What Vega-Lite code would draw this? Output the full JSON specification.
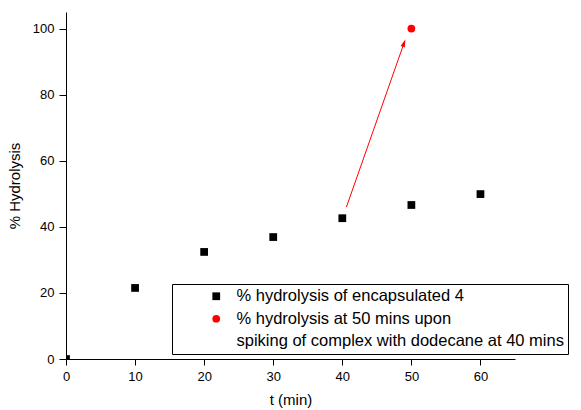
{
  "$schema": "https://vega.github.io/schema/vega-lite/v6.json",
  "width": 449,
  "height": 347,
  "autosize": "none",
  "padding": {"left": 66, "top": 12, "right": 66, "bottom": 51},
  "background": "white",
  "config": {
    "view": {"stroke": null},
    "font": "Liberation Sans",
    "axis": {
      "domainColor": "black", "domainWidth": 1, "tickColor": "black", "tickWidth": 1,
      "labelColor": "black", "labelFont": "Liberation Sans", "labelFontSize": 13,
      "titleColor": "black", "titleFont": "Liberation Sans", "titleFontSize": 15, "titleFontWeight": "normal",
      "grid": false
    }
  },
  "datasets": {
    "hydro": [
      {"t": 0, "pct": 0, "series": "enc"},
      {"t": 10, "pct": 21.5, "series": "enc"},
      {"t": 20, "pct": 32.4, "series": "enc"},
      {"t": 30, "pct": 36.9, "series": "enc"},
      {"t": 40, "pct": 42.6, "series": "enc"},
      {"t": 50, "pct": 46.6, "series": "enc"},
      {"t": 60, "pct": 49.9, "series": "enc"},
      {"t": 50, "pct": 100, "series": "spike"}
    ],
    "arrow": [
      {"t": 40.6, "pct": 46, "t2": 48.94, "pct2": 95.6}
    ]
  },
  "layer": [
    {
      "data": {"name": "arrow"},
      "mark": {"type": "rule", "color": "red", "strokeWidth": 1},
      "encoding": {
        "x": {"field": "t", "type": "quantitative", "scale": {"domain": [0, 65], "nice": false}},
        "x2": {"field": "t2"},
        "y": {"field": "pct", "type": "quantitative", "scale": {"domain": [0, 105], "nice": false}},
        "y2": {"field": "pct2"}
      }
    },
    {
      "data": {"name": "arrow"},
      "mark": {"type": "point", "shape": "M0,-1L0.55,1L-0.55,1Z", "angle": 19.4, "filled": true, "color": "red", "opacity": 1, "size": 64},
      "encoding": {
        "x": {"field": "t2", "type": "quantitative"},
        "y": {"field": "pct2", "type": "quantitative"}
      }
    },
    {
      "data": {"name": "hydro"},
      "mark": {"type": "point", "filled": true, "opacity": 1, "size": 60, "clip": true},
      "encoding": {
        "x": {
          "field": "t", "type": "quantitative",
          "scale": {"domain": [0, 65], "nice": false},
          "axis": {
            "title": "t (min)", "titlePadding": 9,
            "values": [0, 5, 10, 15, 20, 25, 30, 35, 40, 45, 50, 55, 60, 65],
            "labelExpr": "datum.value % 10 === 0 ? datum.label : ''",
            "tickSize": {"condition": {"test": "datum.value % 10 === 0", "value": 6}, "value": 4},
            "labelPadding": 5,
            "labelFlush": false
          }
        },
        "y": {
          "field": "pct", "type": "quantitative",
          "scale": {"domain": [0, 105], "nice": false},
          "axis": {
            "title": "% Hydrolysis", "titlePadding": 10,
            "values": [0, 10, 20, 30, 40, 50, 60, 70, 80, 90, 100],
            "labelExpr": "datum.value % 20 === 0 ? datum.label : ''",
            "tickSize": {"condition": {"test": "datum.value % 20 === 0", "value": 7}, "value": 4},
            "labelPadding": 5,
            "labelFlush": false
          }
        },
        "color": {
          "field": "series", "type": "nominal",
          "scale": {"domain": ["enc", "spike", "spike2"], "range": ["black", "red", "transparent"]},
          "legend": {
            "title": null, "orient": "none", "legendX": 106, "legendY": 272,
            "strokeColor": "black", "fillColor": "white", "padding": 4,
            "labelFont": "Liberation Sans", "labelFontSize": 16.5, "labelColor": "black", "labelLimit": 500,
            "symbolSize": 60, "symbolOffset": 32, "labelOffset": 12, "rowPadding": 5.5,
            "labelExpr": "datum.value == 'enc' ? '% hydrolysis of encapsulated 4' : datum.value == 'spike' ? '% hydrolysis at 50 mins upon' : 'spiking of complex with dodecane at 40 mins   '"
          }
        },
        "shape": {
          "field": "series", "type": "nominal",
          "scale": {"domain": ["enc", "spike", "spike2"], "range": ["square", "circle", "circle"]},
          "legend": null
        }
      }
    }
  ]
}
